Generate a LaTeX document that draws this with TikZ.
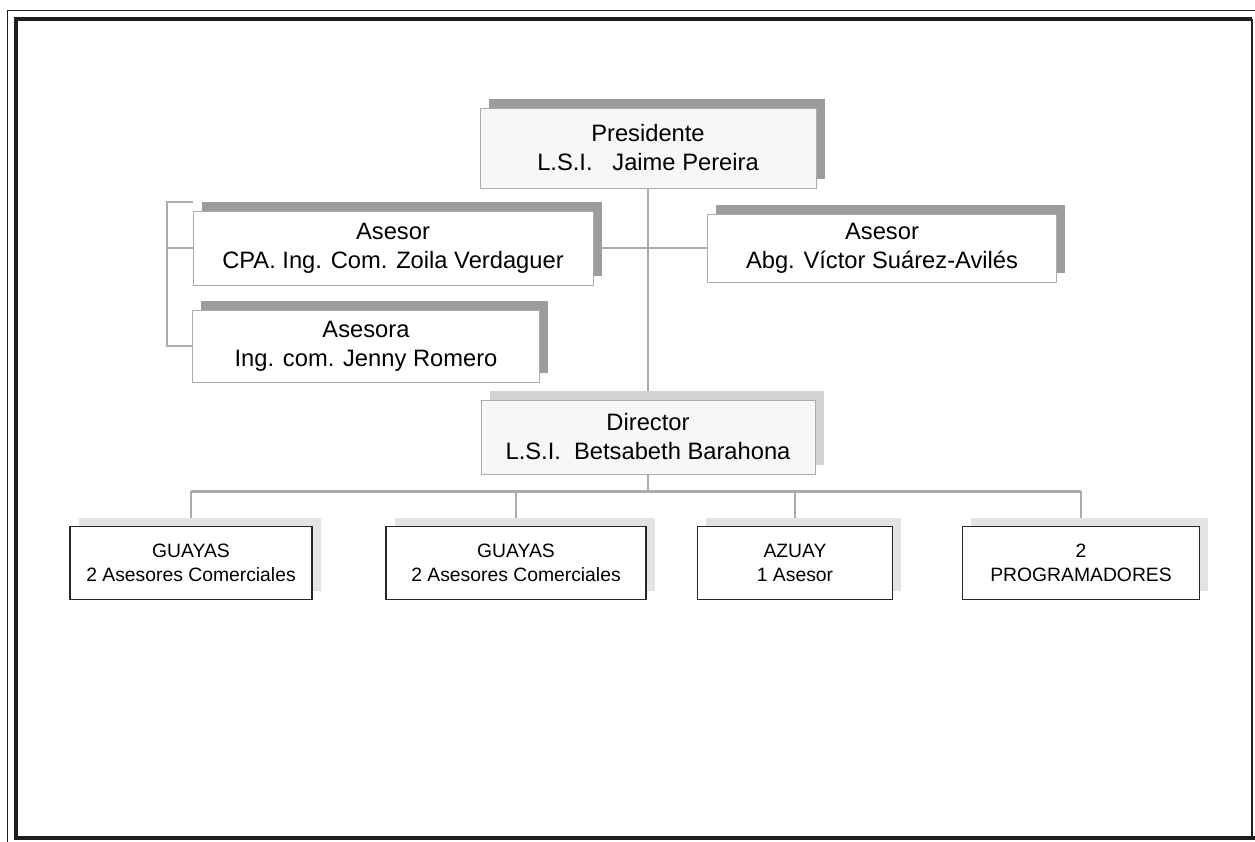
\documentclass[tikz,border=0pt]{standalone}
\usepackage{fontspec}
\setmainfont{Liberation Sans}
\usetikzlibrary{shadows,backgrounds,positioning}
\definecolor{lineagris}{HTML}{ABABAB}
\definecolor{sombragris}{HTML}{9C9C9C}
\definecolor{marcoink}{HTML}{1E1E1E}
\tikzset{
  cargo/.style={draw=gray!65, line width=0.5pt, fill=white, align=center,
    inner sep=0pt, font=\fontsize{13.5}{16.5}\selectfont,
    drop shadow={shadow xshift=5pt,shadow yshift=5pt,fill=sombragris,opacity=1}},
  oficina/.style={draw=black!85, line width=0.9pt, fill=white, align=center,
    inner sep=0pt, minimum height=1.46cm, font=\fontsize{11}{14}\selectfont,
    drop shadow={shadow xshift=5pt,shadow yshift=5pt,fill=gray!22,opacity=1}},
  enlace/.style={draw=lineagris, line width=1.4pt}
}

\begin{document}
\begin{tikzpicture}[x=0.02cm,y=-0.02cm]
    \useasboundingbox (0,0) rectangle (1255,842);
    % marco doble de la hoja (cortado a la derecha y abajo)
    \draw[marcoink,line width=0.5pt] (1260,10) -- (7,10) -- (7,850);
    \draw[marcoink,line width=2.6pt] (1252,19) -- (16,19) -- (16,838) -- (1260,838);
    \draw[marcoink,line width=1.2pt] (1252,19) -- (1252,838);

    % directivos y asesores
    \node[cargo,fill=gray!6,minimum width=6.72cm,minimum height=1.6cm] (pres) at (648,148)
      {Presidente\\L.S.I.\ \ \ Jaime Pereira};
    \node[cargo,minimum width=8cm,minimum height=1.48cm] (asesorcpa) at (393,248)
      {Asesor\\CPA. Ing. Com. Zoila Verdaguer};
    \node[cargo,minimum width=6.94cm,minimum height=1.44cm] (asesora) at (366,346)
      {Asesora\\Ing. com. Jenny Romero};
    \node[cargo,minimum width=6.98cm,minimum height=1.36cm] (asesorabg) at (882,248)
      {Asesor\\Abg. Víctor Suárez-Avilés};
    \node[cargo,fill=gray!6,minimum width=6.68cm,minimum height=1.48cm,
      drop shadow={shadow xshift=5pt,shadow yshift=5pt,fill=gray!35,opacity=1}] (director) at (648,437)
      {Director\\L.S.I.\ \ Betsabeth Barahona};

    % oficinas
    \node[oficina,minimum width=4.84cm] (guayasA) at (191,563) {GUAYAS\\2 Asesores Comerciales};
    \node[oficina,minimum width=5.2cm]  (guayasB) at (516,563) {GUAYAS\\2 Asesores Comerciales};
    \node[oficina,minimum width=3.9cm]  (azuay)   at (795,563) {AZUAY\\1 Asesor};
    \node[oficina,minimum width=4.74cm] (prog)    at (1081,563) {2\\PROGRAMADORES};

    \begin{scope}[on background layer]
      \draw[enlace] (pres.south) -- (director.north);
      \draw[enlace] (asesorcpa.east) -- (asesorabg.west);
      \draw[enlace] ([yshift=5pt]asesorcpa.north west) -| ([xshift=-0.5cm]asesora.west)
        -- (asesora.west);
      \draw[enlace] (asesorcpa.west) -- ++(-25,0);
      \draw[enlace] (director.south) -- ++(0,17) coordinate (bus);
      \draw[enlace] (guayasA.north |- bus) -- (prog.north |- bus);
      \foreach \o in {guayasA,guayasB,azuay,prog}
        \draw[enlace] (\o.north |- bus) -- (\o.north);
    \end{scope}
\end{tikzpicture}
\end{document}
